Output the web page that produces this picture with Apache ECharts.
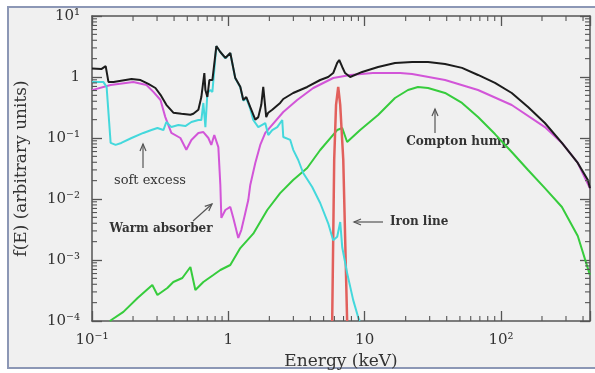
<!DOCTYPE html>
<html>
<head>
<meta charset="utf-8">
<script src="https://cdn.jsdelivr.net/npm/echarts@6/dist/echarts.min.js"></script>
<style>
html, body { margin: 0; padding: 0; background: #fff; }
#chart { width: 595px; height: 373px; }
</style>
</head>
<body>
<div id="chart"></div>
<script>
// [energy keV, f(E)]
const totalSpectrum = [
  [0.1, 1.38], [0.117, 1.35], [0.126, 1.51], [0.132, 0.83], [0.144, 0.83], [0.195, 0.93], [0.227, 0.89],
  [0.259, 0.77], [0.292, 0.66], [0.318, 0.51], [0.351, 0.35], [0.395, 0.26], [0.453, 0.25], [0.527, 0.24],
  [0.554, 0.25], [0.603, 0.29], [0.634, 0.47], [0.667, 1.16], [0.679, 0.61], [0.702, 0.47], [0.726, 0.89],
  [0.764, 0.89], [0.817, 3.22], [0.874, 2.57], [0.951, 2.05], [1.034, 2.47], [1.125, 0.96], [1.224, 0.69],
  [1.288, 0.42], [1.355, 0.47], [1.449, 0.32], [1.577, 0.2], [1.659, 0.22], [1.745, 0.35], [1.804, 0.69],
  [1.897, 0.22], [1.963, 0.26], [2.1, 0.29], [2.4, 0.375], [2.53, 0.436], [2.99, 0.547], [3.79, 0.686],
  [4.72, 0.893], [5.4, 1.0], [5.88, 1.16], [6.29, 1.7], [6.51, 1.9], [6.85, 1.46], [7.19, 1.16], [7.83, 1.0],
  [9.59, 1.21], [12.55, 1.46], [16.7, 1.7], [22.3, 1.76], [29.2, 1.76], [38.9, 1.63], [51.8, 1.41],
  [67.9, 1.08], [90.4, 0.8], [120, 0.547], [158, 0.322], [210, 0.176], [280, 0.083], [366, 0.039],
  [434, 0.0205], [450, 0.015]
];
const absorbedSpectrum = [
  [0.1, 0.61], [0.137, 0.74], [0.201, 0.83], [0.251, 0.74], [0.282, 0.57], [0.318, 0.42], [0.345, 0.22],
  [0.382, 0.121], [0.445, 0.1], [0.492, 0.064], [0.536, 0.093], [0.603, 0.121], [0.656, 0.125], [0.714, 0.1],
  [0.75, 0.077], [0.789, 0.112], [0.845, 0.071], [0.874, 0.017], [0.889, 0.0049], [0.951, 0.0066],
  [1.034, 0.0074], [1.088, 0.0049], [1.183, 0.0023], [1.245, 0.0031], [1.332, 0.0059], [1.401, 0.0096],
  [1.449, 0.017], [1.577, 0.039], [1.715, 0.077], [1.866, 0.121], [2.03, 0.151], [2.53, 0.267], [3.2, 0.42],
  [4.2, 0.66], [5.88, 0.963], [7.83, 1.08], [11.5, 1.16], [18.2, 1.16], [22.3, 1.12], [38.9, 0.893],
  [67.9, 0.612], [120, 0.348], [210, 0.151], [280, 0.083], [366, 0.039], [450, 0.015]
];
const softSpectrum = [
  [0.1, 0.83], [0.121, 0.83], [0.128, 0.69], [0.137, 0.083], [0.149, 0.077], [0.164, 0.083], [0.195, 0.1],
  [0.238, 0.121], [0.273, 0.135], [0.302, 0.146], [0.334, 0.135], [0.351, 0.183], [0.382, 0.151],
  [0.43, 0.163], [0.484, 0.157], [0.536, 0.183], [0.603, 0.197], [0.634, 0.197], [0.656, 0.375],
  [0.679, 0.151], [0.702, 0.547], [0.738, 0.61], [0.764, 0.57], [0.817, 3.2], [0.874, 2.55], [0.951, 2.03],
  [1.034, 2.45], [1.125, 0.95], [1.224, 0.68], [1.288, 0.41], [1.355, 0.45], [1.449, 0.3], [1.524, 0.197],
  [1.659, 0.151], [1.866, 0.176], [1.963, 0.112], [2.1, 0.135], [2.285, 0.151], [2.487, 0.197], [2.53, 0.104],
  [2.846, 0.093], [2.994, 0.064], [3.258, 0.0436], [3.543, 0.0267], [4.124, 0.0157], [4.719, 0.0086],
  [5.402, 0.004], [5.876, 0.0021], [6.292, 0.0024], [6.622, 0.0042], [6.852, 0.0016], [7.443, 0.00061],
  [8.245, 0.00022], [8.956, 0.000116], [9.2, 0.0001]
];
const comptonSpectrum = [
  [0.135, 0.0001], [0.17, 0.000141], [0.216, 0.000238], [0.277, 0.000389], [0.302, 0.000267],
  [0.357, 0.000348], [0.395, 0.000436], [0.46, 0.000507], [0.527, 0.000768], [0.573, 0.000322],
  [0.656, 0.000436], [0.776, 0.000568], [0.874, 0.000686], [1.034, 0.000828], [1.224, 0.00157],
  [1.524, 0.0027], [1.93, 0.0066], [2.4, 0.0125], [2.99, 0.0205], [3.79, 0.0322], [4.72, 0.0636],
  [6.29, 0.135], [6.85, 0.146], [7.44, 0.086], [9.27, 0.135], [12.55, 0.238], [16.7, 0.453], [20.8, 0.612],
  [24.6, 0.686], [29.2, 0.66], [38.9, 0.547], [51.8, 0.375], [67.9, 0.221], [90.4, 0.116], [120, 0.059],
  [158, 0.0299], [210, 0.0151], [280, 0.0074], [366, 0.00247], [449, 0.00057]
];
const ironLine = [
  [5.78, 0.0001], [5.98, 0.044], [6.17, 0.35], [6.4, 0.69], [6.62, 0.35], [6.97, 0.044], [7.44, 0.0001]
];

const xMin = 0.1, xMax = 450;
const yMin = 1e-4, yMax = 10;
const supers = { '-4': '10⁻⁴', '-3': '10⁻³', '-2': '10⁻²', '-1': '10⁻¹', '0': '1', '1': '10', '2': '10²' };
const ySupers = Object.assign({}, supers, { '1': '10¹' });
const minorMult = [2, 3, 4, 5, 6, 7, 8, 9];
const xMinor = [], yMinor = [];
[0.1, 1, 10, 100].forEach(d => minorMult.forEach(m => { if (m * d < xMax) xMinor.push(m * d); }));
[1e-4, 1e-3, 1e-2, 1e-1, 1].forEach(d => minorMult.forEach(m => yMinor.push(m * d)));

const font = 'DejaVu Serif';
const axisColor = '#555';

function logAxis(pos, min, max, labels, withLabel) {
  return {
    type: 'log', position: pos, min: min, max: max, logBase: 10,
    axisLine: { show: true, lineStyle: { color: axisColor, width: 1.5 } },
    axisTick: { show: true, inside: true, length: 10, lineStyle: { color: axisColor, width: 1.3 } },
    splitLine: { show: false },
    axisLabel: {
      show: withLabel, showMinLabel: true, showMaxLabel: true, color: '#333', fontFamily: font, fontSize: 15, margin: 12,
      formatter: v => {
        const p = Math.log10(v);
        return Math.abs(p - Math.round(p)) < 1e-6 ? (labels[String(Math.round(p))] || '') : '';
      }
    }
  };
}

const chart = echarts.init(document.getElementById('chart'));

const xAxisMain = logAxis('bottom', xMin, xMax, supers, true);
xAxisMain.name = 'Energy (keV)';
xAxisMain.nameLocation = 'middle';
xAxisMain.nameGap = 30;
xAxisMain.nameTextStyle = { fontFamily: font, fontSize: 17, color: '#333' };
const yAxisMain = logAxis('left', yMin, yMax, ySupers, true);
yAxisMain.name = 'f(E) (arbitrary units)';
yAxisMain.nameLocation = 'middle';
yAxisMain.nameGap = 62;
yAxisMain.nameTextStyle = { fontFamily: font, fontSize: 17, color: '#333' };

function lineSeries(data, color, width) {
  return {
    type: 'line', data: data, showSymbol: false, clip: true, silent: true,
    lineStyle: { color: color, width: width || 2 }
  };
}

function arrowHead(tip, dx, dy) {
  const len = 7, half = 3;
  const bx = tip[0] - dx * len, by = tip[1] - dy * len;
  return {
    type: 'polyline',
    shape: { points: [[bx + dy * half, by - dx * half], tip, [bx - dy * half, by + dx * half]] },
    style: { stroke: '#555', lineWidth: 1.2, fill: null }
  };
}
function arrow(from, to) {
  const dx = to[0] - from[0], dy = to[1] - from[1];
  const l = Math.sqrt(dx * dx + dy * dy);
  return [
    { type: 'line', shape: { x1: from[0], y1: from[1], x2: to[0], y2: to[1] }, style: { stroke: '#555', lineWidth: 1.2 } },
    arrowHead(to, dx / l, dy / l)
  ];
}
function note(text, x, y, size, align, weight) {
  return {
    type: 'text', x: x, y: y,
    style: { text: text, fill: '#333', font: (weight || 'normal') + ' ' + size + 'px "' + font + '"', align: align, verticalAlign: 'middle' }
  };
}

chart.setOption({
  animation: false,
  backgroundColor: '#ffffff',
  grid: { left: 92, right: 5, top: 16, bottom: 52, containLabel: false, outerBoundsMode: 'none' },
  xAxis: [xAxisMain, logAxis('top', xMin, xMax, supers, false)],
  yAxis: [yAxisMain, logAxis('right', yMin, yMax, ySupers, false)],
  graphic: [
    { type: 'rect', z: -10, shape: { x: 8, y: 7, width: 600, height: 361 },
      style: { fill: '#f0f0f0', stroke: '#8c97b5', lineWidth: 2 } },
    note('soft excess', 150, 181, 13, 'center'),
    note('Warm absorber', 161, 229, 12, 'center', 'bold'),
    note('Iron line', 390, 222, 12, 'left', 'bold'),
    note('Compton hump', 458, 142, 12, 'center', 'bold')
  ].concat(
    arrow([143, 168], [143, 144]),
    arrow([193, 221], [212, 204]),
    arrow([383, 222], [354, 222]),
    arrow([435, 133], [435, 109])
  ),
  series: [
    lineSeries(comptonSpectrum, '#36cc3c'),
    lineSeries(ironLine, '#e2605c', 2.5),
    lineSeries(absorbedSpectrum, '#d255d8'),
    lineSeries(softSpectrum, '#44d8dc'),
    lineSeries(totalSpectrum, '#1c1c1c'),
    {
      type: 'custom', silent: true, z: 4,
      data: xMinor.map(v => [v, 1]),
      renderItem: function (params, api) {
        const b = api.coord([api.value(0), yMin]);
        const t = api.coord([api.value(0), yMax]);
        const st = { stroke: axisColor, lineWidth: 1.1 };
        return { type: 'group', children: [
          { type: 'line', shape: { x1: b[0], y1: b[1], x2: b[0], y2: b[1] - 5 }, style: st },
          { type: 'line', shape: { x1: t[0], y1: t[1], x2: t[0], y2: t[1] + 5 }, style: st }
        ] };
      }
    },
    {
      type: 'custom', silent: true, z: 4,
      data: yMinor.map(v => [1, v]),
      renderItem: function (params, api) {
        const l = api.coord([xMin, api.value(1)]);
        const r = api.coord([xMax, api.value(1)]);
        const st = { stroke: axisColor, lineWidth: 1.1 };
        return { type: 'group', children: [
          { type: 'line', shape: { x1: l[0], y1: l[1], x2: l[0] + 5, y2: l[1] }, style: st },
          { type: 'line', shape: { x1: r[0], y1: r[1], x2: r[0] - 5, y2: r[1] }, style: st }
        ] };
      }
    }
  ]
});
</script>
</body>
</html>
